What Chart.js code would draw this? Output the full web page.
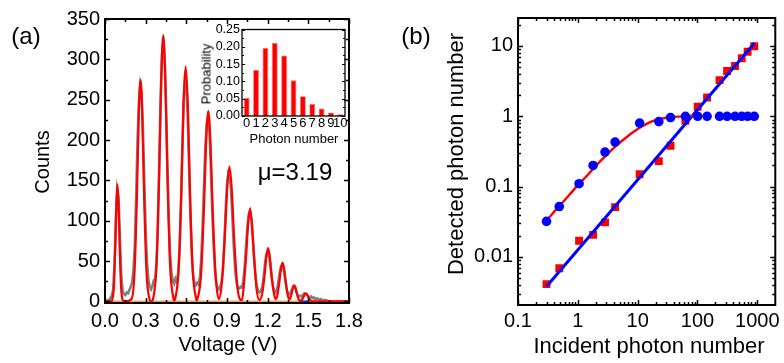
<!DOCTYPE html>
<html>
<head>
<meta charset="utf-8">
<script src="https://cdn.jsdelivr.net/npm/chart.js@4.4.1/dist/chart.umd.min.js"></script>
<style>
  html, body { margin: 0; padding: 0; background: #fff; }
  #wrap { position: relative; width: 784px; height: 363px; overflow: hidden;
          font-family: 'Liberation Sans', Arial, sans-serif; color: #000; }
  canvas { position: absolute; }
  .t { position: absolute; white-space: nowrap; line-height: 1; transform: translate(-50%, -50%); }
  .rot { transform: translate(-50%, -50%) rotate(-90deg); }
</style>
</head>
<body>
<div id="wrap">
  <canvas id="chartA" width="392" height="363" style="left:0;top:0;width:392px;height:363px"></canvas>
  <canvas id="chartInset" width="152" height="115" style="left:196px;top:20px;width:152px;height:115px"></canvas>
  <canvas id="chartB" width="392" height="363" style="left:392px;top:0;width:392px;height:363px"></canvas>

  <div class="t" style="left:26px;top:36px;font-size:24px">(a)</div>
  <div class="t rot" style="left:42px;top:162px;font-size:20px">Counts</div>
  <div class="t" style="left:228px;top:344px;font-size:20px">Voltage (V)</div>
  <div class="t" style="left:295px;top:172px;font-size:24px">μ=3.19</div>
  <div class="t rot" style="left:206px;top:74px;font-size:13px">Probability</div>
  <div class="t" style="left:294px;top:138px;font-size:13px">Photon number</div>

  <div class="t" style="left:416px;top:36px;font-size:24px">(b)</div>
  <div class="t rot" style="left:456px;top:154px;font-size:22px">Detected photon number</div>
  <div class="t" style="left:649px;top:346px;font-size:22px">Incident photon number</div>
</div>

<script>
// ── Data: panel (a), measured trace (one sample every 0.01 V) ──
const GRAY_STEP = 0.01;
const grayCounts = [
  0, 0, 1, 2, 4, 7, 14, 45, 100, 138,
  128, 78, 32, 13, 9, 8, 11, 10, 14, 18,
  24, 38, 70, 130, 198, 248, 268, 258, 212, 148,
  88, 48, 27, 18, 15, 19, 26, 28, 48, 95,
  170, 250, 305, 322, 298, 245, 170, 105, 60, 36,
  26, 22, 28, 24, 36, 62, 118, 185, 248, 278,
  272, 232, 168, 104, 58, 33, 22, 20, 23, 21,
  30, 52, 92, 142, 190, 220, 228, 212, 172, 120,
  74, 42, 24, 17, 15, 18, 24, 40, 72, 112,
  145, 160, 158, 138, 104, 68, 40, 24, 17, 16,
  18, 17, 25, 42, 68, 92, 108, 112, 102, 80,
  54, 33, 19, 13, 11, 13, 18, 30, 46, 58,
  62, 57, 44, 29, 18, 12, 11, 15, 26, 37,
  44, 45, 38, 26, 15, 10, 9, 11, 15, 19,
  18, 13, 8, 6, 7, 6, 8, 10, 9, 8,
  6, 5, 6, 4, 5, 3, 4, 3, 2, 3,
  2, 1, 2, 1, 1, 0, 0, 0, 0, 0,
  0, 0, 0, 0, 0, 0, 0, 0, 0, 0,
  0
];

// ── Data: panel (a), multi-peak fit (red) ──
const fitVoltage = [
  0, 0.050,
  0.053, 0.066, 0.076, 0.084, 0.092, 0.100, 0.108, 0.118, 0.131, 0.150,
  0.196, 0.218, 0.236, 0.249, 0.262, 0.275, 0.288, 0.306, 0.328, 0.342,
  0.355, 0.380, 0.400, 0.415, 0.430, 0.445, 0.460, 0.480, 0.505, 0.511,
  0.517, 0.543, 0.564, 0.579, 0.595, 0.611, 0.626, 0.647, 0.673, 0.677,
  0.681, 0.708, 0.730, 0.746, 0.762, 0.778, 0.794, 0.816, 0.840,
  0.862, 0.884, 0.901, 0.918, 0.935, 0.952, 0.974, 0.996,
  1.010, 1.022, 1.041, 1.056, 1.070, 1.084, 1.099, 1.118, 1.138,
  1.159, 1.177, 1.190, 1.203, 1.216, 1.229, 1.247, 1.258,
  1.270, 1.286, 1.298, 1.310, 1.322, 1.334, 1.350, 1.362,
  1.377, 1.386, 1.396, 1.406, 1.415, 1.428, 1.440,
  1.450, 1.463, 1.472, 1.482, 1.492, 1.501, 1.514, 1.530, 1.800
];
const fitCounts = [
  0, 0,
  1.6, 19.6, 70.6, 121, 145, 121, 70.6, 19.6, 1.6, 0,
  3, 37, 134, 230, 275, 230, 134, 37, 3, 0,
  3.6, 45, 161, 276, 330, 276, 161, 45, 3.6, 1,
  3, 39, 142, 243, 291, 243, 142, 39, 3, 1,
  2.6, 32, 115, 197, 236, 197, 115, 32, 3,
  22.5, 81, 139, 167, 139, 81, 22.5, 2.5,
  1.5, 15.5, 56, 96, 115, 96, 56, 15.5, 1.5,
  9, 32, 55, 66, 55, 32, 9, 3,
  6.5, 23.4, 40, 48, 40, 23.4, 6.5, 2.5,
  9.7, 16.7, 20, 16.7, 9.7, 2.7, 1,
  1.5, 4.9, 8.4, 10, 8.4, 4.9, 1.4, 0, 0
];
const baseVoltage = [0, 1.8];          // orange baseline
const blueBaseVoltage = [1.43, 1.5];   // short blue piece on the baseline

const xTicksA = [0, 0.3, 0.6, 0.9, 1.2, 1.5, 1.8];
const xTickLabelsA = ['0.0', '0.3', '0.6', '0.9', '1.2', '1.5', '1.8'];
const xMinorA = [0.15, 0.45, 0.75, 1.05, 1.35, 1.65];
const yTicksA = [0, 50, 100, 150, 200, 250, 300, 350];
const yMinorA = [25, 75, 125, 175, 225, 275, 325];

// ── Data: inset ──
const photonN = ['0', '1', '2', '3', '4', '5', '6', '7', '8', '9', '10'];
const probability = [0.052, 0.133, 0.197, 0.211, 0.175, 0.103, 0.057, 0.035, 0.022, 0.010, 0.005];
const yTicksInset = [0, 0.05, 0.10, 0.15, 0.20, 0.25];
const yTickLabelsInset = ['0.00', '0.05', '0.10', '0.15', '0.20', '0.25'];
const yMinorInset = [0.025, 0.075, 0.125, 0.175, 0.225];

// ── Data: panel (b) ──
const incident = [0.3, 0.49, 1.05, 1.8, 2.85, 4.2, 10.8, 22.6, 35.5, 63, 101, 145, 234, 313, 425, 550, 690, 890];
const detectedCircles = [0.032, 0.052, 0.11, 0.20, 0.31, 0.43, 0.80, 0.84, 0.96, 1.0, 1.0, 1.0, 1.0, 1.0, 1.0, 1.0, 1.0, 1.0];
const detectedSquares = [0.0041, 0.0069, 0.017, 0.0206, 0.031, 0.051, 0.15, 0.23, 0.38, 0.86, 1.37, 1.85, 3.27, 4.4, 5.2, 6.7, 8.3, 9.9];
const satFitX = [0.3, 0.5, 0.7, 1, 1.5, 2, 3, 4, 5, 7, 10, 15, 20, 30, 40, 60, 100];
const satFitY = [0.033, 0.054, 0.074, 0.105, 0.15, 0.197, 0.28, 0.355, 0.42, 0.53, 0.66, 0.80, 0.88, 0.955, 0.98, 0.997, 1.0];
const linFitX = [0.3, 900];
const linFitY = [0.0038, 11];

const xTicksB = [0.1, 1, 10, 100, 1000];
const xTickLabelsB = ['0.1', '1', '10', '100', '1000'];
const yTicksB = [0.01, 0.1, 1, 10];
const yTickLabelsB = ['0.01', '0.1', '1', '10'];

// ── Helpers ──
const FONT = "'Liberation Sans', Arial, sans-serif";
Chart.defaults.font.family = FONT;
Chart.defaults.color = '#000';

const pts = (xs, ys) => xs.map((x, i) => ({ x, y: ys[i] }));

function logMinor(lo, hi) {
  const out = [];
  for (let d = lo; d < hi; d *= 10) {
    for (let k = 2; k <= 9; k++) {
      const v = d * k;
      if (v < hi) out.push(v);
    }
  }
  return out;
}

// box frame with inward ticks on all four sides
function framePlugin(cfg) {
  return {
    id: 'frame',
    afterDatasetsDraw(chart) {
      const { ctx, chartArea: a, scales: { x, y } } = chart;
      ctx.save();
      ctx.strokeStyle = '#000';
      ctx.lineWidth = cfg.tickWidth;
      ctx.beginPath();
      const xt = (vals, len) => vals.forEach(v => {
        const px = Math.round(x.getPixelForValue(v)) + 0.5;
        ctx.moveTo(px, a.bottom); ctx.lineTo(px, a.bottom - len);
        ctx.moveTo(px, a.top); ctx.lineTo(px, a.top + len);
      });
      const yt = (vals, len) => vals.forEach(v => {
        const py = Math.round(y.getPixelForValue(v)) + 0.5;
        ctx.moveTo(a.left, py); ctx.lineTo(a.left + len, py);
        ctx.moveTo(a.right, py); ctx.lineTo(a.right - len, py);
      });
      xt(cfg.xMajor || [], cfg.majorLen);
      xt(cfg.xMinor || [], cfg.minorLen);
      yt(cfg.yMajor || [], cfg.majorLen);
      yt(cfg.yMinor || [], cfg.minorLen);
      ctx.stroke();
      ctx.lineWidth = cfg.lineWidth;
      ctx.strokeRect(a.left, a.top, a.right - a.left, a.bottom - a.top);
      ctx.restore();
    }
  };
}

const noGrid = { display: false, drawTicks: false };
const noBorder = { display: false };

// ── Panel (a) ──
new Chart(document.getElementById('chartA'), {
  type: 'line',
  data: {
    datasets: [
      { data: pts(fitVoltage, fitCounts), borderColor: '#ff0000', borderWidth: 2.2,
        pointRadius: 0, cubicInterpolationMode: 'monotone' },
      { data: pts(blueBaseVoltage, [0, 0]), borderColor: '#2b2bff', borderWidth: 2, pointRadius: 0 },
      { data: pts(baseVoltage, [0, 0]), borderColor: '#f5a24a', borderWidth: 2, pointRadius: 0 },
      { data: grayCounts.map((c, i) => ({ x: +(i * GRAY_STEP).toFixed(2), y: c })),
        borderColor: '#808080', borderWidth: 2.6, pointRadius: 0 }
    ]
  },
  options: {
    responsive: false,
    animation: false,
    layout: { padding: { left: 0, right: 43, top: 19, bottom: 0 } },
    plugins: { legend: { display: false }, tooltip: { enabled: false } },
    scales: {
      x: {
        type: 'linear', min: 0, max: 1.8,
        grid: noGrid, border: noBorder,
        afterBuildTicks: s => { s.ticks = xTicksA.map(v => ({ value: v })); },
        afterFit: s => { s.height = 60; },
        ticks: { font: { size: 20 }, padding: 6, autoSkip: false, maxRotation: 0,
                 callback: (v, i) => xTickLabelsA[i] }
      },
      y: {
        min: -2, max: 350,
        grid: noGrid, border: noBorder,
        afterBuildTicks: s => { s.ticks = yTicksA.map(v => ({ value: v })); },
        afterFit: s => { s.width = 105; },
        ticks: { font: { size: 20 }, padding: 5, autoSkip: false, callback: v => String(v) }
      }
    }
  },
  plugins: [framePlugin({ xMajor: xTicksA, xMinor: xMinorA, yMajor: yTicksA, yMinor: yMinorA,
                          majorLen: 5, minorLen: 3, lineWidth: 2, tickWidth: 1.5 })]
});

// ── Inset ──
new Chart(document.getElementById('chartInset'), {
  type: 'bar',
  data: {
    labels: photonN,
    datasets: [{ data: probability, backgroundColor: '#ff0000', borderColor: '#ff6a6a',
                 borderWidth: 0.8, barPercentage: 0.62, categoryPercentage: 1 }]
  },
  options: {
    responsive: false,
    animation: false,
    layout: { padding: { left: 0, right: 3, top: 8, bottom: 0 } },
    plugins: { legend: { display: false }, tooltip: { enabled: false } },
    scales: {
      x: {
        grid: noGrid, border: noBorder,
        afterFit: s => { s.height = 19; },
        ticks: { font: { size: 13 }, padding: 0, autoSkip: false, maxRotation: 0, minRotation: 0 }
      },
      y: {
        min: 0, max: 0.25,
        grid: noGrid, border: noBorder,
        afterBuildTicks: s => { s.ticks = yTicksInset.map(v => ({ value: v })); },
        afterFit: s => { s.width = 46; },
        ticks: { font: { size: 12.5 }, padding: 2, autoSkip: false,
                 callback: (v, i) => yTickLabelsInset[i] }
      }
    }
  },
  plugins: [framePlugin({ yMajor: yTicksInset, yMinor: yMinorInset,
                          majorLen: 3, minorLen: 2, lineWidth: 1.3, tickWidth: 1 })]
});

// ── Panel (b) ──
new Chart(document.getElementById('chartB'), {
  type: 'scatter',
  data: {
    datasets: [
      { data: pts(incident, detectedCircles), backgroundColor: '#0000ff', borderWidth: 0,
        pointRadius: 4.8, pointStyle: 'circle' },
      { data: pts(satFitX, satFitY), showLine: true, borderColor: '#ff0000', borderWidth: 2.4,
        pointRadius: 0, cubicInterpolationMode: 'monotone' },
      { data: pts(linFitX, linFitY), showLine: true, borderColor: '#0000ff', borderWidth: 3,
        pointRadius: 0 },
      { data: pts(incident, detectedSquares), backgroundColor: '#ff0000', borderWidth: 0,
        pointRadius: 5.6, pointStyle: 'rect' }
    ]
  },
  options: {
    responsive: false,
    animation: false,
    layout: { padding: { left: 0, right: 7, top: 18, bottom: 0 } },
    plugins: { legend: { display: false }, tooltip: { enabled: false } },
    scales: {
      x: {
        type: 'logarithmic', min: 0.1, max: 2000,
        grid: noGrid, border: noBorder,
        afterBuildTicks: s => { s.ticks = xTicksB.map(v => ({ value: v })); },
        afterFit: s => { s.height = 58; },
        ticks: { font: { size: 20 }, padding: 4, autoSkip: false, maxRotation: 0,
                 callback: (v, i) => xTickLabelsB[i] }
      },
      y: {
        type: 'logarithmic', min: 0.00207, max: 25,
        grid: noGrid, border: noBorder,
        afterBuildTicks: s => { s.ticks = yTicksB.map(v => ({ value: v })); },
        afterFit: s => { s.width = 126; },
        ticks: { font: { size: 20 }, padding: 5, autoSkip: false,
                 callback: (v, i) => yTickLabelsB[i] }
      }
    }
  },
  plugins: [framePlugin({ xMajor: xTicksB, xMinor: logMinor(0.1, 2000),
                          yMajor: yTicksB, yMinor: logMinor(0.001, 25).filter(v => v > 0.00207),
                          majorLen: 5, minorLen: 3, lineWidth: 2, tickWidth: 1.5 })]
});
</script>
</body>
</html>
